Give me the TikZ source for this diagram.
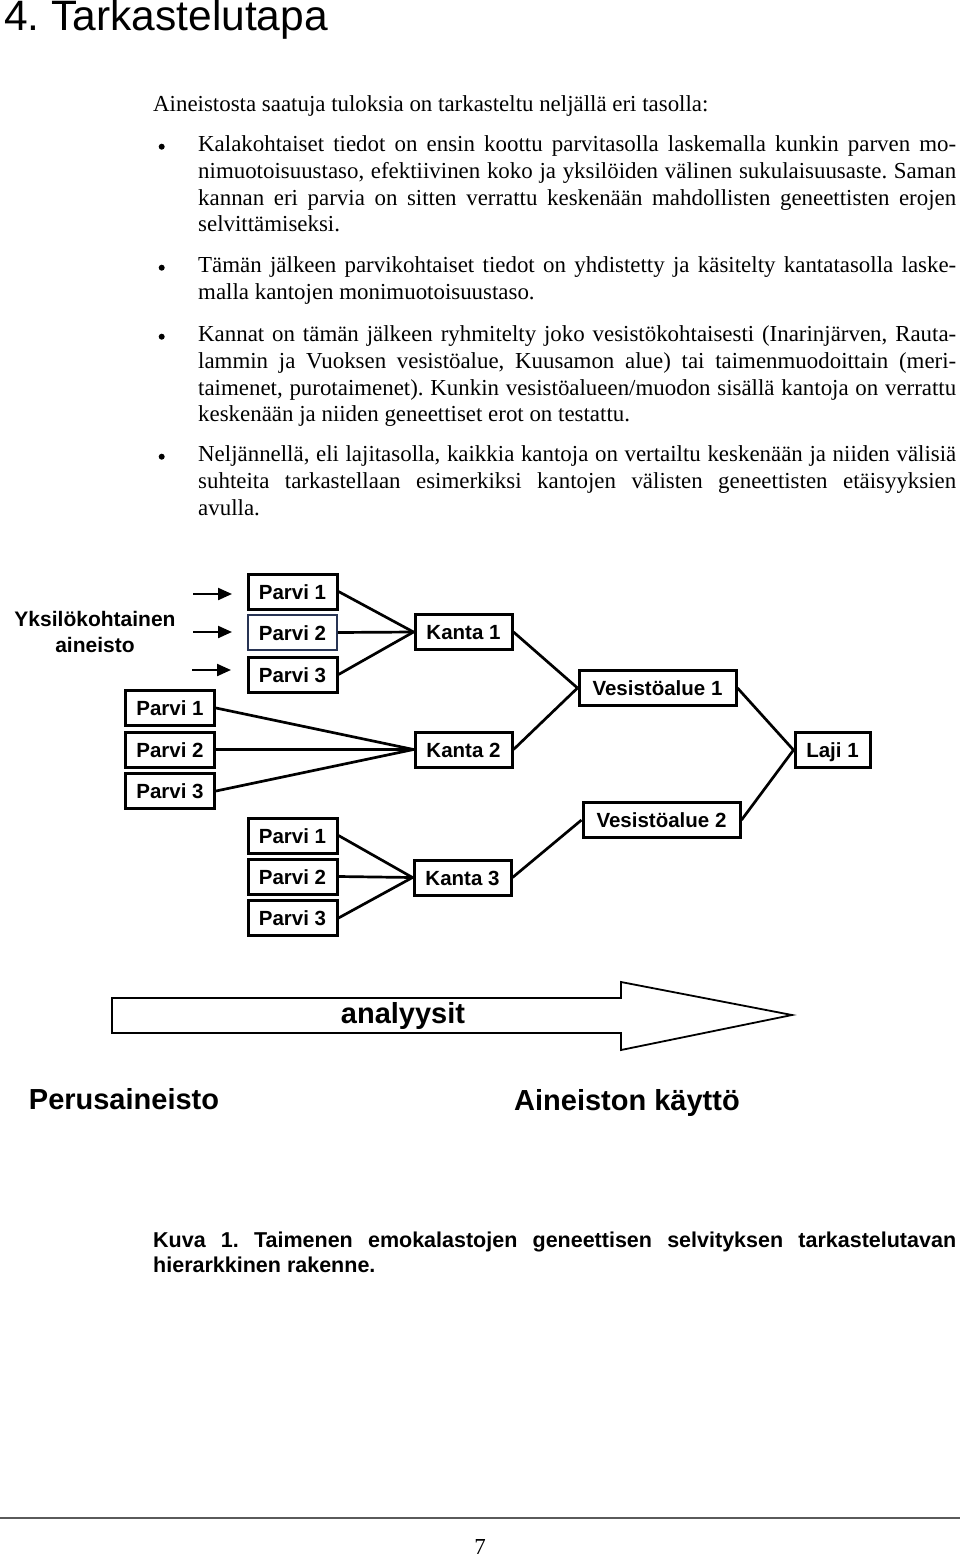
\documentclass[tikz,border=0pt]{standalone}
\usepackage{fontspec}
\setmainfont{Liberation Serif}
\newfontfamily\arialfont{Liberation Sans}
\usetikzlibrary{arrows.meta}
\hyphenpenalty=10000
\frenchspacing
\definecolor{boxnavy}{RGB}{40,52,84}
\definecolor{rulegray}{RGB}{90,90,90}

\tikzset{
  box/.style={draw, line width=3pt, inner sep=0pt, minimum height=35pt,
    text height=15pt, text depth=0pt, font=\arialfont\bfseries\fontsize{20.5}{24}\selectfont},
  parvi/.style={box, minimum width=89pt},
  kanta/.style={box, minimum width=97pt},
  alue/.style={box, minimum width=157pt},
  laji/.style={box, minimum width=75pt},
  link/.style={line width=2.7pt},
  feed/.style={line width=2.2pt, -{Triangle[length=14pt,width=12pt]}},
  para/.style={anchor=base west, inner sep=0pt, text width=758pt, align=justify,
    font=\fontsize{22.9}{26.7}\selectfont},
  big/.style={anchor=base, inner sep=0pt, font=\arialfont\bfseries\fontsize{29}{34}\selectfont}
}

\begin{document}
\begin{tikzpicture}[x=1pt,y=-1pt]
\fill[white] (0,0) rectangle (960,1557);
\useasboundingbox (0,0) rectangle (960,1557);

% Heading and body text
\node[anchor=base west, inner sep=0pt, font=\arialfont\fontsize{42.5}{48}\selectfont] (otsikko) at (4,31) {4. Tarkastelutapa};
\node[anchor=base west, inner sep=0pt, font=\fontsize{22.9}{26.7}\selectfont] (intro) at (153,112) {Aineistosta saatuja tuloksia on tarkasteltu neljällä eri tasolla:};

\foreach \y in {146.7,267.7,336.7,456.7}
  \fill (161.7,\y) circle[radius=3pt];

\node[para] (b1) at (198,151.7) {Kalakohtaiset tiedot on ensin koottu parvitasolla laskemalla kunkin parven mo-\linebreak nimuotoisuustaso, efektiivinen koko ja yksilöiden välinen sukulaisuusaste. Saman\linebreak kannan eri parvia on sitten verrattu keskenään mahdollisten geneettisten erojen\linebreak selvittämiseksi.};
\node[para] (b2) at (198,272.7) {Tämän jälkeen parvikohtaiset tiedot on yhdistetty ja käsitelty kantatasolla laske-\linebreak malla kantojen monimuotoisuustaso.};
\node[para] (b3) at (198,341.7) {Kannat on tämän jälkeen ryhmitelty joko vesistökohtaisesti (Inarinjärven, Rauta-\linebreak lammin ja Vuoksen vesistöalue, Kuusamon alue) tai taimenmuodoittain (meri-\linebreak taimenet, purotaimenet). Kunkin vesistöalueen/muodon sisällä kantoja on verrattu\linebreak keskenään ja niiden geneettiset erot on testattu.};
\node[para] (b4) at (198,461.7) {Neljännellä, eli lajitasolla, kaikkia kantoja on vertailtu keskenään ja niiden välisiä\linebreak suhteita tarkastellaan esimerkiksi kantojen välisten geneettisten etäisyyksien\linebreak avulla.};

% Individual level
\node[font=\arialfont\bfseries\fontsize{21}{26}\selectfont, align=center] (yks) at (95,632) {Yksilökohtainen\\aineisto};
\coordinate (in1) at (193,594);
\coordinate (out1) at (232,594);
\coordinate (in2) at (193,632);
\coordinate (out2) at (232,632);
\coordinate (in3) at (192,670);
\coordinate (out3) at (231,670);
\draw[feed] (in1) -- (out1);
\draw[feed] (in2) -- (out2);
\draw[feed] (in3) -- (out3);

% Schools
\node[parvi] (p11) at (292.5,591.5) {Parvi 1};
\node[parvi, draw=boxnavy, line width=1.6pt] (p12) at (292.5,632.5) {Parvi 2};
\node[parvi] (p13) at (292.5,674.5) {Parvi 3};
\node[parvi] (p21) at (170,708) {Parvi 1};
\node[parvi] (p22) at (170,749.5) {Parvi 2};
\node[parvi] (p23) at (170,791) {Parvi 3};
\node[parvi] (p31) at (292.5,835.5) {Parvi 1};
\node[parvi] (p32) at (292.5,876.5) {Parvi 2};
\node[parvi] (p33) at (292.5,918) {Parvi 3};

% Stocks, water areas and species
\node[kanta] (k1) at (463.5,632) {Kanta 1};
\node[kanta] (k2) at (463.5,749.5) {Kanta 2};
\node[kanta] (k3) at (462.5,877.5) {Kanta 3};
\node[alue] (v1) at (657.5,688) {Vesistöalue 1};
\node[alue] (v2) at (661.5,820) {Vesistöalue 2};
\node[laji] (l1) at (832.5,750) {Laji 1};

% Connect levels
\foreach \p in {p11,p12,p13} \draw[link] (\p.east) -- (k1.west);
\foreach \p in {p21,p22,p23} \draw[link] (\p.east) -- (k2.west);
\foreach \p in {p31,p32,p33} \draw[link] (\p.east) -- (k3.west);
\draw[link] (k1.east) -- (v1.west);
\draw[link] (k2.east) -- (v1.west);
\draw[link] (k3.east) -- (v2.west);
\draw[link] (v1.east) -- (l1.west);
\draw[link] (v2.east) -- (l1.west);

% Analysis arrow
\draw[line width=1.8pt] (112,998) -- (621,998) -- (621,982) -- (792,1015) -- (621,1050) -- (621,1033) -- (112,1033) -- cycle;
\node[big] (analyysit) at (403,1023) {analyysit};
\node[big] (perus) at (124,1109) {Perusaineisto};
\node[big] (kaytto) at (627,1110) {Aineiston käyttö};

% Caption
\node[anchor=base west, inner sep=0pt, text width=803pt, align=justify,
  font=\arialfont\bfseries\fontsize{21.5}{25.5}\selectfont] (kuva) at (153,1247)
  {Kuva 1. Taimenen emokalastojen geneettisen selvityksen tarkastelutavan\linebreak hierarkkinen rakenne.};

% Page footer
\draw[rulegray, line width=2pt] (0,1518) -- (960,1518);
\node[anchor=base, inner sep=0pt, font=\fontsize{22.9}{26}\selectfont] (sivu) at (480,1554) {7};
\end{tikzpicture}
\end{document}
